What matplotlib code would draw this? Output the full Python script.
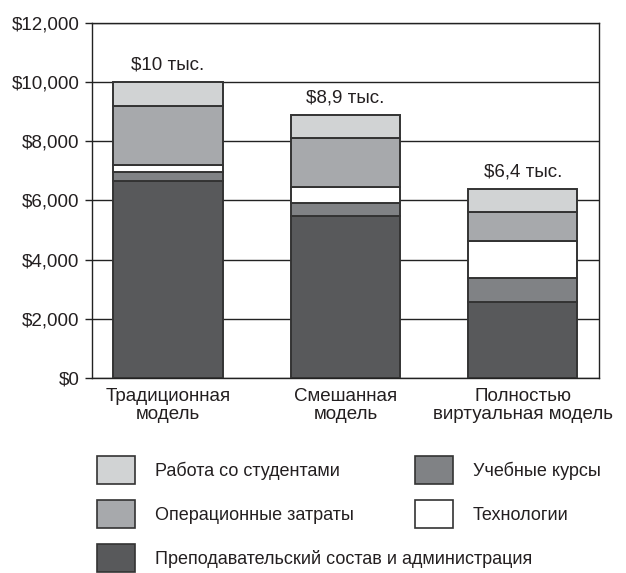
import matplotlib
matplotlib.use("Agg")
import matplotlib.pyplot as plt
from matplotlib.patches import Patch
import numpy as np

plt.rcParams['font.family'] = ['Liberation Sans', 'DejaVu Sans']

categories = ["Традиционная\nмодель", "Смешанная\nмодель", "Полностью\nвиртуальная модель"]
totals_labels = ["$10 тыс.", "$8,9 тыс.", "$6,4 тыс."]

faculty = [6670, 5480, 2590]      # Преподавательский состав и администрация
courses = [290, 430, 800]         # Учебные курсы
technology = [240, 550, 1250]     # Технологии
operations = [1990, 1660, 980]    # Операционные затраты
students = [810, 780, 780]        # Работа со студентами

series_names = ["Преподавательский состав и администрация", "Учебные курсы",
                "Технологии", "Операционные затраты", "Работа со студентами"]
series_values = [faculty, courses, technology, operations, students]
colors = ["#58595b", "#808285", "#ffffff", "#a7a9ac", "#d1d3d4"]

yticks = [0, 2000, 4000, 6000, 8000, 10000, 12000]
ytick_labels = ["$0", "$2,000", "$4,000", "$6,000", "$8,000", "$10,000", "$12,000"]

TXT = "#231f20"

fig = plt.figure(figsize=(6.26, 5.73), dpi=100)
ax = fig.add_axes([0.1465, 0.3398, 0.8105, 0.6206])

x = np.arange(len(categories))
width = 0.616
bottom = np.zeros(len(categories))
for name, vals, c in zip(series_names, series_values, colors):
    ax.bar(x, vals, width, bottom=bottom, color=c, edgecolor="#333333",
           linewidth=1.4, zorder=3, label=name)
    bottom += np.array(vals)

for xi, tot, lab in zip(x, bottom, totals_labels):
    ax.annotate(lab, (xi, tot), xytext=(0, 6), textcoords="offset points",
                ha="center", va="bottom", fontsize=13.5, color=TXT)

ax.set_xlim(-0.43, 2.43)
ax.set_ylim(0, 12000)
ax.set_yticks(yticks)
ax.set_yticklabels(ytick_labels, fontsize=13.5, color=TXT)
ax.set_xticks(x)
ax.set_xticklabels(categories, fontsize=13.5, color=TXT, linespacing=1.1)
ax.tick_params(axis="x", length=0, pad=7)
ax.tick_params(axis="y", length=5, width=1, color="#222222", pad=4)
ax.yaxis.grid(True, color="#222222", linewidth=1, zorder=0)
for s in ax.spines.values():
    s.set_color("#222222")
    s.set_linewidth(1)

def mk(i):
    return Patch(facecolor=colors[i], edgecolor="#333333", linewidth=1.2)

h1 = [mk(4), mk(3), mk(0)]
l1 = [series_names[4], series_names[3], series_names[0]]
h2 = [mk(1), mk(2)]
l2 = [series_names[1], series_names[2]]

common = dict(frameon=False, fontsize=13, handlelength=2.1, handleheight=2.0,
              handletextpad=1.1, labelspacing=0.9, borderpad=0, borderaxespad=0,
              loc="upper left")
leg1 = fig.legend(h1, l1, bbox_to_anchor=(97 / 626, 1 - 456 / 573), **common)
leg2 = fig.legend(h2, l2, bbox_to_anchor=(415 / 626, 1 - 456 / 573), **common)
for leg in (leg1, leg2):
    for t in leg.get_texts():
        t.set_color(TXT)

fig.savefig("out.png", dpi=100)
